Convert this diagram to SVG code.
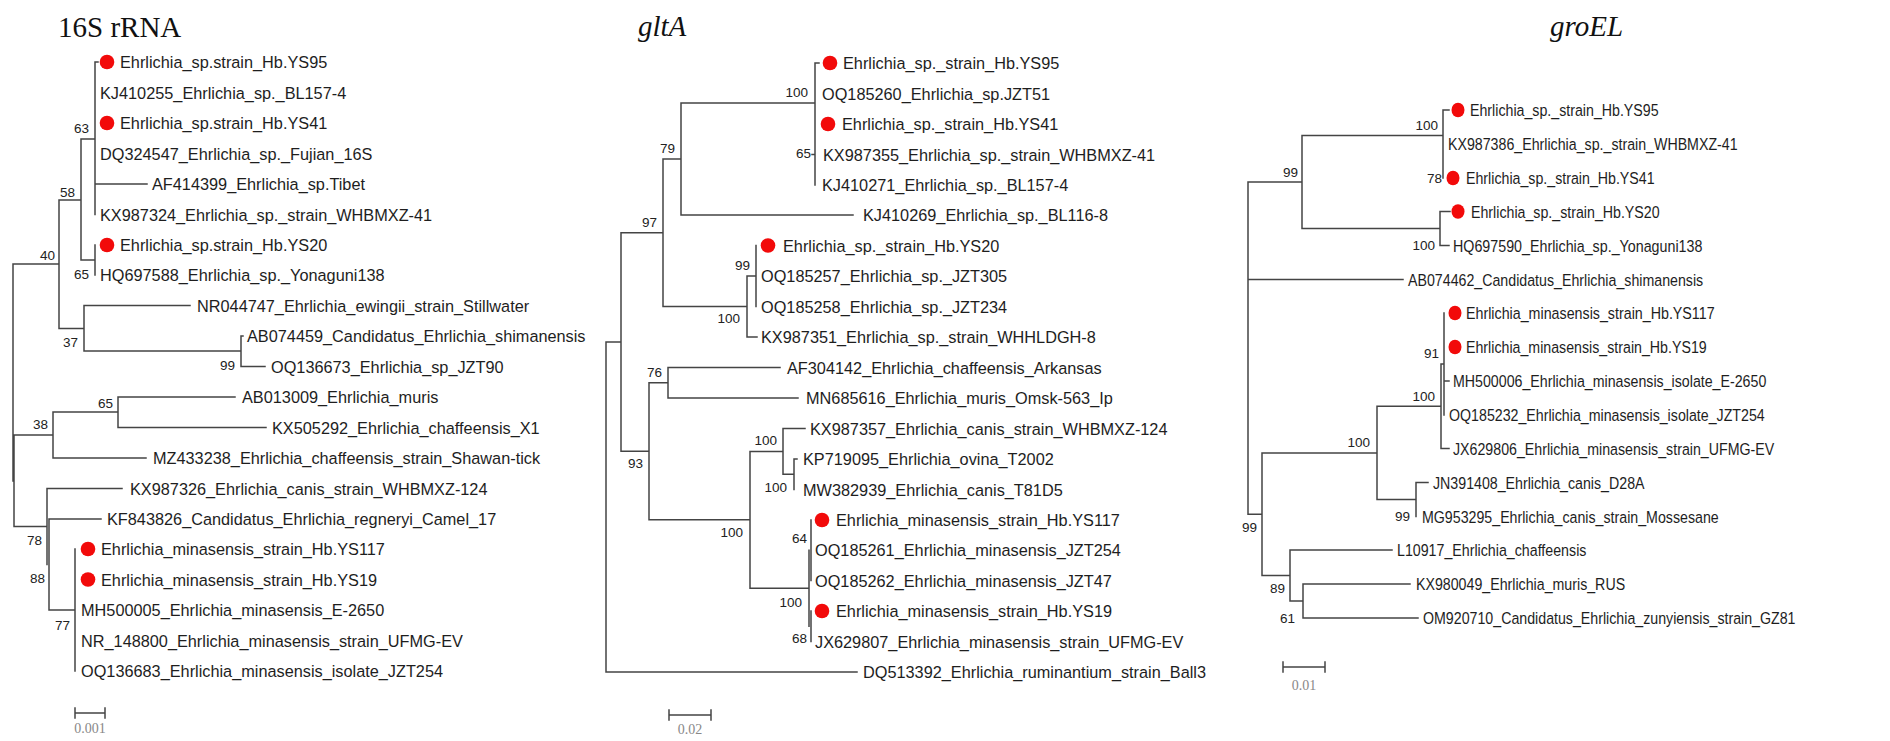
<svg xmlns="http://www.w3.org/2000/svg" width="1890" height="741" viewBox="0 0 1890 741">
<style>
.ln{fill:none;stroke:#444;stroke-width:1.5;stroke-linecap:square}
.lf{font-family:"Liberation Sans",Arial,sans-serif;font-size:16.3px;fill:#1e1e1e}
.bs{font-family:"Liberation Sans",Arial,sans-serif;font-size:13.5px;fill:#222;text-anchor:end}
.dot{fill:#f20a0a}
.ttl{font-family:"Liberation Serif","Times New Roman",serif;font-size:29px;fill:#111}
.sc{font-family:"Liberation Serif","Times New Roman",serif;font-size:14px;fill:#888;text-anchor:middle}
</style>
<rect width="1890" height="741" fill="#fff"/>
<text class="ttl" x="58" y="37">16S rRNA</text>
<text class="ttl" x="638" y="36" font-style="italic">gltA</text>
<text class="ttl" x="1550" y="36" font-style="italic">groEL</text>

<g id="connectors">
<path class="ln" d="M13,264V481M14,435V526.5M13,264H59M59,200V328.5M59,200H81M81,139V260M81,139H95M95,62V214.5M95,62H98M81,260H95M95,245V275M95,184H147M59,328.5H84M84,305.5V351M84,305.5H190M84,351H241M241,336V366.5M241,336H243M241,366.5H265M14,435H53M53,412V458M53,412H118M118,397V427.5M118,397H235M118,427.5H266M53,458H146M14,526.5H47M47,488.5V564.5M47,488.5H122M49,519V610M49,519H101M49,610H75M75,549V671"/>
<path class="ln" d="M75,713H105M75,708V718M105,708V718"/>
<path class="ln" d="M606,342V672M606,342H621M606,672H857M621,232.75V451.3M621,232.75H663M663,159V306.5M663,159H681M681,103V215M681,103H815M815,63V185M815,63H819M681,215H853M812,154.5H815M663,306.5H747M747,276V337M747,276H756M756,245.5V306.5M747,337H757M621,451.3H649M649,382.75V519.8M649,382.75H668M668,367.5V398M668,367.5H780M668,398H798M649,519.8H750M750,451.4V588.25M750,451.4H783M783,428.5V474.25M783,428.5H805M783,474.25H794M794,459V489.5M794,459H797M750,588.25H809M809,550.25V626.25M811,520V580.5M811,611V641.5"/>
<path class="ln" d="M669,715H711M669,710V720M711,710V720"/>
<path class="ln" d="M1248,182V514.2M1248,182H1302M1248,279.5H1403M1248,514.2H1262M1302,135.5V228.5M1302,135.5H1443M1443,110V178M1443,110H1449M1302,228.5H1440M1440,211.5V245.5M1440,211.5H1450M1440,245.5H1449M1262,452.9V575.5M1262,452.9H1377M1377,406.25V499.5M1377,406.25H1441M1441,364V448.5M1441,364H1444M1444,313V415M1444,381H1449M1441,448.5H1449M1377,499.5H1416M1416,482.5V516.5M1416,482.5H1428M1262,575.5H1290M1290,550V601M1290,550H1392M1290,601H1303M1303,584V618M1303,584H1410M1303,618H1418"/>
<path class="ln" d="M1283,667H1325M1283,662V672M1325,662V672"/>
</g>

<g id="scale-bars">
<text class="sc" x="90" y="733">0.001</text>
<text class="sc" x="690" y="734">0.02</text>
<text class="sc" x="1304" y="690">0.01</text>
</g>

<g id="panel-16S">
<g id="p1-l0"><circle class="dot" cx="107" cy="62" r="7.3"/><text class="lf" x="120" y="68">Ehrlichia_sp.strain_Hb.YS95</text></g>
<g id="p1-l1"><text class="lf" x="100" y="98.5">KJ410255_Ehrlichia_sp._BL157-4</text></g>
<g id="p1-l2"><circle class="dot" cx="107" cy="123" r="7.3"/><text class="lf" x="120" y="129">Ehrlichia_sp.strain_Hb.YS41</text></g>
<g id="p1-l3"><text class="lf" x="100" y="159.5">DQ324547_Ehrlichia_sp._Fujian_16S</text></g>
<g id="p1-l4"><text class="lf" x="152" y="190">AF414399_Ehrlichia_sp.Tibet</text></g>
<g id="p1-l5"><text class="lf" x="100" y="220.5">KX987324_Ehrlichia_sp._strain_WHBMXZ-41</text></g>
<g id="p1-l6"><circle class="dot" cx="107" cy="245" r="7.3"/><text class="lf" x="120" y="251">Ehrlichia_sp.strain_Hb.YS20</text></g>
<g id="p1-l7"><text class="lf" x="100" y="281">HQ697588_Ehrlichia_sp._Yonaguni138</text></g>
<g id="p1-l8"><text class="lf" x="197" y="311.5">NR044747_Ehrlichia_ewingii_strain_Stillwater</text></g>
<g id="p1-l9"><text class="lf" x="247" y="342">AB074459_Candidatus_Ehrlichia_shimanensis</text></g>
<g id="p1-l10"><text class="lf" x="271" y="372.5">OQ136673_Ehrlichia_sp_JZT90</text></g>
<g id="p1-l11"><text class="lf" x="242" y="403">AB013009_Ehrlichia_muris</text></g>
<g id="p1-l12"><text class="lf" x="272" y="433.5">KX505292_Ehrlichia_chaffeensis_X1</text></g>
<g id="p1-l13"><text class="lf" x="153" y="464">MZ433238_Ehrlichia_chaffeensis_strain_Shawan-tick</text></g>
<g id="p1-l14"><text class="lf" x="130" y="494.5">KX987326_Ehrlichia_canis_strain_WHBMXZ-124</text></g>
<g id="p1-l15"><text class="lf" x="107" y="525">KF843826_Candidatus_Ehrlichia_regneryi_Camel_17</text></g>
<g id="p1-l16"><circle class="dot" cx="88" cy="549" r="7.3"/><text class="lf" x="101" y="555">Ehrlichia_minasensis_strain_Hb.YS117</text></g>
<g id="p1-l17"><circle class="dot" cx="88" cy="579.5" r="7.3"/><text class="lf" x="101" y="585.5">Ehrlichia_minasensis_strain_Hb.YS19</text></g>
<g id="p1-l18"><text class="lf" x="81" y="616">MH500005_Ehrlichia_minasensis_E-2650</text></g>
<g id="p1-l19"><text class="lf" x="81" y="646.5">NR_148800_Ehrlichia_minasensis_strain_UFMG-EV</text></g>
<g id="p1-l20"><text class="lf" x="81" y="677">OQ136683_Ehrlichia_minasensis_isolate_JZT254</text></g>
<g id="p1-n63"><text class="bs" x="89" y="133">63</text></g>
<g id="p1-n58"><text class="bs" x="75" y="197">58</text></g>
<g id="p1-n65a"><text class="bs" x="89" y="279">65</text></g>
<g id="p1-n40"><text class="bs" x="55" y="260">40</text></g>
<g id="p1-n37"><text class="bs" x="78" y="347">37</text></g>
<g id="p1-n99"><text class="bs" x="235" y="370">99</text></g>
<g id="p1-n65b"><text class="bs" x="113" y="408">65</text></g>
<g id="p1-n38"><text class="bs" x="48" y="429">38</text></g>
<g id="p1-n78"><text class="bs" x="42" y="545">78</text></g>
<g id="p1-n88"><text class="bs" x="45" y="583">88</text></g>
<g id="p1-n77"><text class="bs" x="70" y="630">77</text></g>
</g>

<g id="panel-gltA">
<g id="p2-l0"><circle class="dot" cx="830" cy="63" r="7.3"/><text class="lf" x="843" y="69">Ehrlichia_sp._strain_Hb.YS95</text></g>
<g id="p2-l1"><text class="lf" x="822" y="99.5">OQ185260_Ehrlichia_sp.JZT51</text></g>
<g id="p2-l2"><circle class="dot" cx="828" cy="124" r="7.3"/><text class="lf" x="842" y="130">Ehrlichia_sp._strain_Hb.YS41</text></g>
<g id="p2-l3"><text class="lf" x="823" y="160.5">KX987355_Ehrlichia_sp._strain_WHBMXZ-41</text></g>
<g id="p2-l4"><text class="lf" x="822" y="191">KJ410271_Ehrlichia_sp._BL157-4</text></g>
<g id="p2-l5"><text class="lf" x="863" y="221">KJ410269_Ehrlichia_sp._BL116-8</text></g>
<g id="p2-l6"><circle class="dot" cx="768" cy="245.5" r="7.3"/><text class="lf" x="783" y="251.5">Ehrlichia_sp._strain_Hb.YS20</text></g>
<g id="p2-l7"><text class="lf" x="761" y="282">OQ185257_Ehrlichia_sp._JZT305</text></g>
<g id="p2-l8"><text class="lf" x="761" y="312.5">OQ185258_Ehrlichia_sp._JZT234</text></g>
<g id="p2-l9"><text class="lf" x="761" y="343">KX987351_Ehrlichia_sp._strain_WHHLDGH-8</text></g>
<g id="p2-l10"><text class="lf" x="787" y="373.5">AF304142_Ehrlichia_chaffeensis_Arkansas</text></g>
<g id="p2-l11"><text class="lf" x="806" y="404">MN685616_Ehrlichia_muris_Omsk-563_Ip</text></g>
<g id="p2-l12"><text class="lf" x="810" y="434.5">KX987357_Ehrlichia_canis_strain_WHBMXZ-124</text></g>
<g id="p2-l13"><text class="lf" x="803" y="465">KP719095_Ehrlichia_ovina_T2002</text></g>
<g id="p2-l14"><text class="lf" x="803" y="495.5">MW382939_Ehrlichia_canis_T81D5</text></g>
<g id="p2-l15"><circle class="dot" cx="822" cy="520" r="7.3"/><text class="lf" x="836" y="526">Ehrlichia_minasensis_strain_Hb.YS117</text></g>
<g id="p2-l16"><text class="lf" x="815" y="556">OQ185261_Ehrlichia_minasensis_JZT254</text></g>
<g id="p2-l17"><text class="lf" x="815" y="586.5">OQ185262_Ehrlichia_minasensis_JZT47</text></g>
<g id="p2-l18"><circle class="dot" cx="822" cy="611" r="7.3"/><text class="lf" x="836" y="617">Ehrlichia_minasensis_strain_Hb.YS19</text></g>
<g id="p2-l19"><text class="lf" x="815" y="647.5">JX629807_Ehrlichia_minasensis_strain_UFMG-EV</text></g>
<g id="p2-l20"><text class="lf" x="863" y="678">DQ513392_Ehrlichia_ruminantium_strain_Ball3</text></g>
<g id="p2-n100a"><text class="bs" x="808" y="97" font-size="13">100</text></g>
<g id="p2-n65"><text class="bs" x="811" y="158" font-size="13">65</text></g>
<g id="p2-n79"><text class="bs" x="675" y="153" font-size="13">79</text></g>
<g id="p2-n97"><text class="bs" x="657" y="227" font-size="13">97</text></g>
<g id="p2-n99"><text class="bs" x="750" y="270" font-size="13">99</text></g>
<g id="p2-n100b"><text class="bs" x="740" y="323" font-size="13">100</text></g>
<g id="p2-n76"><text class="bs" x="662" y="377" font-size="13">76</text></g>
<g id="p2-n93"><text class="bs" x="643" y="468" font-size="13">93</text></g>
<g id="p2-n100c"><text class="bs" x="777" y="445" font-size="13">100</text></g>
<g id="p2-n100d"><text class="bs" x="787" y="492" font-size="13">100</text></g>
<g id="p2-n100e"><text class="bs" x="743" y="537" font-size="13">100</text></g>
<g id="p2-n64"><text class="bs" x="807" y="543" font-size="13">64</text></g>
<g id="p2-n100f"><text class="bs" x="802" y="607" font-size="13">100</text></g>
<g id="p2-n68"><text class="bs" x="807" y="643" font-size="13">68</text></g>
</g>

<g id="panel-groEL">
<g id="p3-l0"><ellipse class="dot" cx="1458" cy="110" rx="6.5" ry="7.3"/><text class="lf" x="1470" y="116" textLength="188.6" lengthAdjust="spacingAndGlyphs">Ehrlichia_sp._strain_Hb.YS95</text></g>
<g id="p3-l1"><text class="lf" x="1448" y="150" textLength="289.6" lengthAdjust="spacingAndGlyphs">KX987386_Ehrlichia_sp._strain_WHBMXZ-41</text></g>
<g id="p3-l2"><ellipse class="dot" cx="1453" cy="178" rx="6.5" ry="7.3"/><text class="lf" x="1466" y="184" textLength="188.6" lengthAdjust="spacingAndGlyphs">Ehrlichia_sp._strain_Hb.YS41</text></g>
<g id="p3-l3"><ellipse class="dot" cx="1458" cy="211.5" rx="6.5" ry="7.3"/><text class="lf" x="1471" y="217.5" textLength="188.6" lengthAdjust="spacingAndGlyphs">Ehrlichia_sp._strain_Hb.YS20</text></g>
<g id="p3-l4"><text class="lf" x="1453" y="251.5" textLength="249.4" lengthAdjust="spacingAndGlyphs">HQ697590_Ehrlichia_sp._Yonaguni138</text></g>
<g id="p3-l5"><text class="lf" x="1408" y="285.5" textLength="295.2" lengthAdjust="spacingAndGlyphs">AB074462_Candidatus_Ehrlichia_shimanensis</text></g>
<g id="p3-l6"><ellipse class="dot" cx="1455" cy="313" rx="6.5" ry="7.3"/><text class="lf" x="1466" y="319" textLength="248.6" lengthAdjust="spacingAndGlyphs">Ehrlichia_minasensis_strain_Hb.YS117</text></g>
<g id="p3-l7"><ellipse class="dot" cx="1455" cy="347" rx="6.5" ry="7.3"/><text class="lf" x="1466" y="353" textLength="240.7" lengthAdjust="spacingAndGlyphs">Ehrlichia_minasensis_strain_Hb.YS19</text></g>
<g id="p3-l8"><text class="lf" x="1453" y="387" textLength="313.3" lengthAdjust="spacingAndGlyphs">MH500006_Ehrlichia_minasensis_isolate_E-2650</text></g>
<g id="p3-l9"><text class="lf" x="1449" y="421" textLength="315.7" lengthAdjust="spacingAndGlyphs">OQ185232_Ehrlichia_minasensis_isolate_JZT254</text></g>
<g id="p3-l10"><text class="lf" x="1453" y="454.5" textLength="321.2" lengthAdjust="spacingAndGlyphs">JX629806_Ehrlichia_minasensis_strain_UFMG-EV</text></g>
<g id="p3-l11"><text class="lf" x="1433" y="488.5" textLength="211.5" lengthAdjust="spacingAndGlyphs">JN391408_Ehrlichia_canis_D28A</text></g>
<g id="p3-l12"><text class="lf" x="1422" y="522.5" textLength="296.7" lengthAdjust="spacingAndGlyphs">MG953295_Ehrlichia_canis_strain_Mossesane</text></g>
<g id="p3-l13"><text class="lf" x="1397" y="556" textLength="189.4" lengthAdjust="spacingAndGlyphs">L10917_Ehrlichia_chaffeensis</text></g>
<g id="p3-l14"><text class="lf" x="1416" y="590" textLength="209.1" lengthAdjust="spacingAndGlyphs">KX980049_Ehrlichia_muris_RUS</text></g>
<g id="p3-l15"><text class="lf" x="1423" y="624" textLength="372.5" lengthAdjust="spacingAndGlyphs">OM920710_Candidatus_Ehrlichia_zunyiensis_strain_GZ81</text></g>
<g id="p3-n100a"><text class="bs" x="1438" y="130" font-size="13">100</text></g>
<g id="p3-n78"><text class="bs" x="1442" y="183" font-size="13">78</text></g>
<g id="p3-n100b"><text class="bs" x="1435" y="250" font-size="13">100</text></g>
<g id="p3-n99a"><text class="bs" x="1298" y="177" font-size="13">99</text></g>
<g id="p3-n91"><text class="bs" x="1439" y="358" font-size="13">91</text></g>
<g id="p3-n100c"><text class="bs" x="1435" y="401" font-size="13">100</text></g>
<g id="p3-n99b"><text class="bs" x="1410" y="521" font-size="13">99</text></g>
<g id="p3-n100d"><text class="bs" x="1370" y="447" font-size="13">100</text></g>
<g id="p3-n99c"><text class="bs" x="1257" y="532" font-size="13">99</text></g>
<g id="p3-n89"><text class="bs" x="1285" y="593" font-size="13">89</text></g>
<g id="p3-n61"><text class="bs" x="1295" y="623" font-size="13">61</text></g>
</g>
</svg>
